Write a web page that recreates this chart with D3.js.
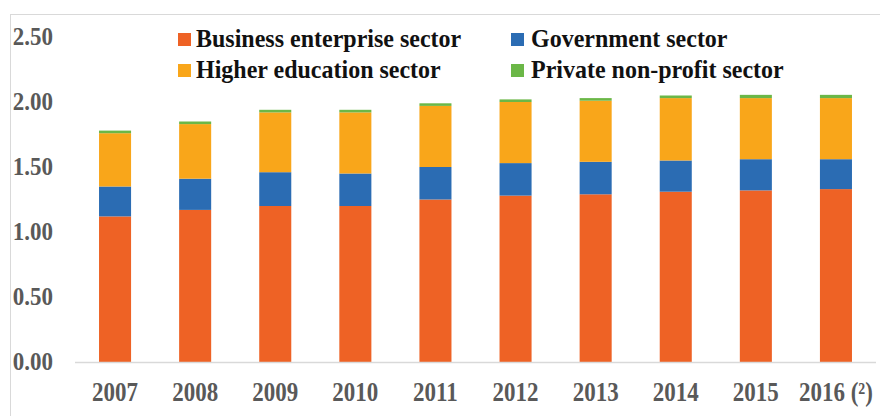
<!DOCTYPE html>
<html>
<head>
<meta charset="utf-8">
<script src="https://cdn.jsdelivr.net/npm/d3@7"></script>
<style>
  body { margin: 0; background: #fff; }
</style>
</head>
<body>
<div id="chart"></div>
<script>
const years = ['2007', '2008', '2009', '2010', '2011', '2012', '2013', '2014', '2015', '2016 (²)'];
const business = [1.12, 1.17, 1.20, 1.20, 1.25, 1.28, 1.29, 1.31, 1.32, 1.33];
const government = [0.23, 0.24, 0.26, 0.25, 0.25, 0.25, 0.25, 0.24, 0.24, 0.23];
const higherEd = [0.41, 0.42, 0.46, 0.47, 0.47, 0.47, 0.47, 0.48, 0.47, 0.47];
const privateNp = [0.02, 0.02, 0.02, 0.02, 0.02, 0.02, 0.02, 0.02, 0.025, 0.025];
const yTicks = [0, 0.5, 1.0, 1.5, 2.0, 2.5];

const series = [
  { key: 'business', name: 'Business enterprise sector', values: business, color: '#EE6225' },
  { key: 'government', name: 'Government sector', values: government, color: '#2B6CB3' },
  { key: 'higher', name: 'Higher education sector', values: higherEd, color: '#F9A61A' },
  { key: 'private', name: 'Private non-profit sector', values: privateNp, color: '#6BB747' }
];

const FONT = '"Liberation Serif", "Times New Roman", "DejaVu Serif", serif';
const width = 880, height = 416;
const svg = d3.select('#chart').append('svg')
  .attr('width', width)
  .attr('height', height)
  .attr('font-family', FONT)
  .attr('font-weight', 'bold');

// outer frame
svg.append('rect')
  .attr('x', 10.5).attr('y', 14.5)
  .attr('width', 900).attr('height', 420)
  .attr('fill', 'none').attr('stroke', '#d9d9d9');

const x = d3.scaleBand()
  .domain(years)
  .range([75, 876])
  .paddingInner(0.6)
  .paddingOuter(0.3);

const y = d3.scaleLinear().domain([0, 2.5]).range([362, 37]);

const table = years.map((yr, i) => {
  const row = { year: yr };
  series.forEach(s => { row[s.key] = s.values[i]; });
  return row;
});
const stacked = d3.stack().keys(series.map(s => s.key))(table);

svg.append('g')
  .selectAll('g')
  .data(stacked)
  .enter()
  .append('g')
  .attr('fill', (d, i) => series[i].color)
  .selectAll('rect')
  .data(d => d)
  .enter()
  .append('rect')
  .attr('x', d => x(d.data.year))
  .attr('y', d => y(d[1]))
  .attr('width', x.bandwidth())
  .attr('height', d => y(d[0]) - y(d[1]));

// baseline
svg.append('line')
  .attr('x1', 75).attr('x2', 876)
  .attr('y1', y(0) + 0.5).attr('y2', y(0) + 0.5)
  .attr('stroke', '#d9d9d9').attr('stroke-width', 1.5);

// y tick labels
svg.append('g')
  .selectAll('text')
  .data(yTicks)
  .enter()
  .append('text')
  .attr('transform', d => `translate(53,${y(d) + 8}) scale(1,1.12)`)
  .attr('text-anchor', 'end')
  .attr('fill', '#595959')
  .attr('font-family', FONT)
  .style('font-size', '23px')
  .text(d => d3.format('.2f')(d));

// x labels
svg.append('g')
  .selectAll('text')
  .data(years)
  .enter()
  .append('text')
  .attr('transform', d => `translate(${x(d) + x.bandwidth() / 2},401) scale(1,1.15)`)
  .attr('text-anchor', 'middle')
  .attr('fill', '#595959')
  .attr('font-family', FONT)
  .style('font-size', '23px')
  .text(d => d);

// legend
const legendPos = [
  { sx: 178, tx: 196, y: 47 },
  { sx: 511, tx: 531, y: 47 },
  { sx: 178, tx: 196, y: 78 },
  { sx: 511, tx: 531, y: 78 }
];
const legend = svg.append('g')
  .selectAll('g')
  .data(series)
  .enter()
  .append('g');

legend.append('rect')
  .attr('x', (d, i) => legendPos[i].sx)
  .attr('y', (d, i) => legendPos[i].y - 14)
  .attr('width', 13).attr('height', 13)
  .attr('fill', d => d.color);

legend.append('text')
  .attr('transform', (d, i) => `translate(${legendPos[i].tx},${legendPos[i].y}) scale(1,1.08)`)
  .attr('fill', '#111')
  .attr('font-family', FONT)
  .style('font-size', '24px')
  .text(d => d.name);
</script>
</body>
</html>
